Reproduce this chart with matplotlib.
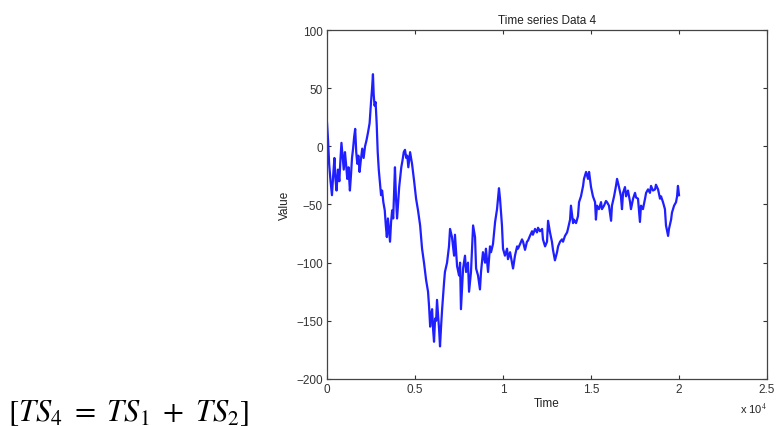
import matplotlib
matplotlib.use("Agg")
import numpy as np
from matplotlib import pyplot as plt
from matplotlib.ticker import FuncFormatter

plt.rcParams['font.family'] = ['Liberation Sans', 'DejaVu Sans']
plt.rcParams['mathtext.fontset'] = 'stix'

# time stamps and the series values (TS4 = TS1 + TS2)
time = [
    0, 60, 120, 200, 280, 350, 420, 480, 540, 620, 700, 760, 820, 880, 950,
    1020, 1080, 1150, 1220, 1300, 1360, 1420, 1480, 1540, 1600, 1660, 1720,
    1780, 1850, 1920, 2000, 2080, 2160, 2240, 2330, 2420, 2500, 2560, 2610,
    2650, 2700, 2760, 2820, 2880, 2940, 3010, 3070, 3130, 3200, 3280, 3340,
    3400, 3460, 3520, 3580, 3640, 3700, 3760, 3820, 3860, 3920, 3980, 4040,
    4100, 4150, 4220, 4290, 4360, 4430, 4500, 4560, 4620, 4720, 4830, 4950,
    5060, 5170, 5290, 5400, 5510, 5630, 5740, 5800, 5860, 5910, 5970, 6030,
    6080, 6140, 6200, 6250, 6310, 6370, 6420, 6480, 6540, 6650, 6700, 6820,
    6930, 6990, 7100, 7220, 7270, 7390, 7500, 7560, 7610, 7730, 7840, 7900,
    8010, 8070, 8180, 8300, 8410, 8470, 8580, 8690, 8750, 8860, 8980, 9030,
    9150, 9260, 9320, 9430, 9550, 9660, 9770, 9830, 9940, 10000, 10110,
    10230, 10280, 10400, 10510, 10570, 10680, 10800, 10850, 10970, 11080,
    11140, 11250, 11360, 11420, 11530, 11650, 11700, 11820, 11930, 11990,
    12100, 12220, 12270, 12390, 12500, 12560, 12670, 12780, 12840, 12950,
    13070, 13130, 13240, 13350, 13410, 13520, 13640, 13690, 13810, 13860,
    13980, 14030, 14150, 14260, 14320, 14430, 14550, 14600, 14720, 14830,
    14890, 15000, 15110, 15230, 15280, 15340, 15450, 15570, 15620, 15740,
    15850, 15910, 16020, 16140, 16190, 16310, 16420, 16480, 16590, 16700,
    16760, 16820, 16930, 16990, 17100, 17220, 17270, 17390, 17500, 17560,
    17670, 17780, 17840, 17950, 18070, 18130, 18240, 18350, 18410, 18520,
    18640, 18690, 18810, 18920, 18980, 19090, 19200, 19260, 19380, 19430,
    19550, 19600, 19720, 19830, 19890, 19940, 20000,
]
value = [
    20, 5, -15, -30, -42, -25, -10, -28, -38, -20, -30, -12, 3, -8, -20,
    -5, -15, -28, -18, -38, -25, -10, -2, 8, 15, -5, -15,
    -8, -22, -12, -2, -10, 0, 5, 12, 20, 38, 50, 62,
    45, 35, 38, 20, -5, -20, -32, -42, -38, -48, -55, -68,
    -78, -62, -72, -82, -65, -55, -62, -35, -18, -45, -62, -48,
    -35, -28, -18, -12, -5, -3, -10, -8, -18, -5, -15, -30,
    -45, -55, -68, -88, -100, -115, -125, -138, -155, -145, -140, -158,
    -168, -148, -150, -132, -145, -158, -172, -155, -140, -117, -108, -100,
    -86, -71, -78, -94, -76, -103, -111, -100, -140, -105, -94, -108,
    -100, -125, -108, -68, -78, -105, -111, -123, -108, -91, -100, -88,
    -108, -86, -91, -84, -65, -54, -36, -45, -68, -88, -94,
    -88, -97, -91, -100, -105, -94, -86, -88, -84, -80,
    -82, -89, -82, -81, -77, -73, -76, -71, -74, -70,
    -73, -71, -80, -86, -82, -64, -74, -82, -89, -98,
    -91, -86, -82, -80, -82, -77, -74, -71, -63, -51,
    -66, -63, -66, -60, -48, -43, -34, -28, -22, -28,
    -22, -35, -43, -48, -63, -51, -54, -48, -54, -51,
    -47, -48, -51, -64, -51, -43, -34, -28, -35, -43,
    -54, -40, -35, -43, -38, -48, -54, -45, -40, -44,
    -45, -65, -51, -54, -45, -40, -37, -40, -34, -38,
    -37, -33, -37, -45, -43, -48, -54, -68, -77, -71,
    -63, -57, -51, -48, -43, -34, -42,
]

x_ticks = [0, 5000, 10000, 15000, 20000, 25000]
y_ticks = [-200, -150, -100, -50, 0, 50, 100]

fig = plt.figure(figsize=(7.79, 4.27), dpi=100)
ax = fig.add_axes([0.4198, 0.1101, 0.5648, 0.8173])

ax.plot(time, value, color='#1f1fff', linewidth=1.6)

ax.set_xlim(0, 25000)
ax.set_ylim(-200, 100)
ax.set_xticks(x_ticks)
ax.set_yticks(y_ticks)
ax.xaxis.set_major_formatter(FuncFormatter(lambda v, p: '%g' % (v / 1e4)))
ax.tick_params(direction='in', length=3, width=0.8, colors='#333333',
               labelsize=8.5, top=True, right=True, pad=3)
for s in ax.spines.values():
    s.set_color('#444444')
    s.set_linewidth(0.9)

ax.set_title('Time series Data 4', fontsize=8.5, color='#222222', pad=5)
ax.set_xlabel('Time', fontsize=8.5, color='#222222', labelpad=1)
ax.set_ylabel('Value', fontsize=8.5, color='#222222', labelpad=4)
ax.text(1.0, -0.085, r'x 10$^{4}$', transform=ax.transAxes, ha='right',
        va='center', fontsize=8, color='#222222')

# formula caption in the lower left corner
fig.text(0.010, 0.014, r'$[TS_4\ =\ TS_1\ +\ TS_2]$', fontsize=22,
         color='black', ha='left', va='baseline')

fig.savefig('out.png', dpi=100, facecolor='white')
